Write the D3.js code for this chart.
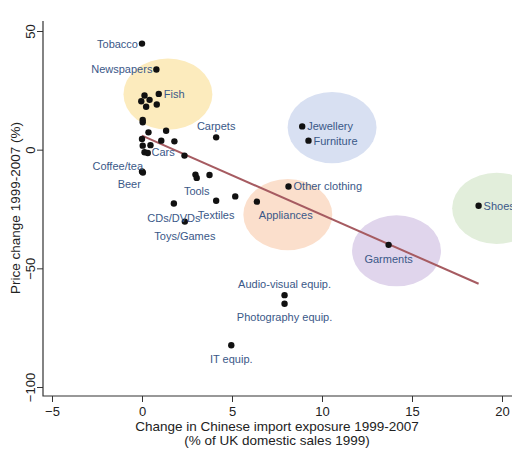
<!DOCTYPE html>
<html>
<head>
<meta charset="utf-8">
<script src="https://cdn.jsdelivr.net/npm/d3@7"></script>
<style>
  body { margin: 0; background: #fff; }
  text { font-family: "Liberation Sans", Arial, sans-serif; }
</style>
</head>
<body>
<svg id="chart" width="512" height="456"></svg>
<script>
// Import exposure change (x, % of UK sales) vs price change (y, %)
var names = ["Tobacco", "Newspapers", "Fish", "", "", "", "", "", "", "", "", "",
  "", "", "", "", "", "Carpets", "Cars", "", "", "Coffee/tea", "Beer", "", "Tools",
  "", "Textiles", "", "Appliances", "CDs/DVDs", "Toys/Games", "Audio-visual equip.",
  "Photography equip.", "IT equip.", "Jewellery", "Furniture", "Other clothing",
  "Shoes", "Garments"];
var xs = [0.0, 0.8, 0.93, 0.14, -0.04, 0.42, 0.23, 0.82, 0.04, 0.04, 1.34, 0.36,
  0.0, 1.07, 1.8, 0.04, 0.47, 4.12, 0.14, 0.32, 2.36, 0.0, 0.05, 2.97, 3.04,
  3.75, 4.12, 5.18, 6.38, 1.77, 2.38, 7.92, 7.92, 4.96, 8.9, 9.25, 8.14,
  18.7, 13.7];
var ys = [44.7, 33.8, 23.5, 22.8, 20.4, 21.0, 18.1, 19.0, 12.5, 11.5, 8.0, 7.3,
  4.5, 3.8, 3.5, 1.7, 1.9, 5.2, -1.1, -1.4, -2.5, -9.2, -9.6, -10.5, -11.9,
  -10.7, -21.5, -19.7, -21.9, -22.7, -30.3, -61.3, -64.9, -82.4, 9.8, 3.8, -15.5,
  -23.6, -40.1];

// fitted line end points
var fitX = [0, 18.7];
var fitY = [5.9, -56.5];

// highlighted groups
var groupNames = ["Fish", "Jewellery", "Appliances", "Garments", "Shoes"];
var groupX = [1.44, 10.56, 8.1, 14.14, 19.7];
var groupY = [23.4, 9.3, -27.4, -42.6, -24.7];
var groupColors = ["#fcebbd", "#d8e0f2", "#fbdfcc", "#e0d5ec", "#e2eedb"];

var xTicks = [-5, 0, 5, 10, 15, 20];
var yTicks = [-100, -50, 0, 50];

var svg = d3.select("#chart");
var x = d3.scaleLinear().domain([-5, 20]).range([52, 502]);
var y = d3.scaleLinear().domain([-100, 50]).range([387, 31]);

// ellipses (radii given in data units)
var rxData = 2.47, ryData = 15;
svg.append("g").selectAll("ellipse").data(groupNames).enter()
  .append("ellipse")
    .attr("cx", function (d, i) { return x(groupX[i]); })
    .attr("cy", function (d, i) { return y(groupY[i]); })
    .attr("rx", x(rxData) - x(0))
    .attr("ry", y(0) - y(ryData))
    .attr("fill", function (d, i) { return groupColors[i]; });

// axes
var axisColor = "#333";
var xAxis = svg.append("g").attr("transform", "translate(0,396)")
  .call(d3.axisBottom(x).tickValues(xTicks).tickSize(6).tickPadding(5).tickFormat(d3.format("d")));
xAxis.select(".domain").remove();
var yAxis = svg.append("g").attr("transform", "translate(43,0)")
  .call(d3.axisLeft(y).tickValues(yTicks).tickSize(6).tickFormat(d3.format("d")));
yAxis.select(".domain").remove();
svg.selectAll(".tick line").attr("stroke", axisColor);
xAxis.selectAll(".tick text").attr("font-size", 13).attr("fill", "#222")
  .attr("font-family", "Liberation Sans, Arial, sans-serif");
yAxis.selectAll(".tick text")
  .attr("font-size", 13).attr("fill", "#222")
  .attr("font-family", "Liberation Sans, Arial, sans-serif")
  .attr("text-anchor", "middle")
  .attr("x", null).attr("dy", null)
  .attr("transform", "translate(-8,0) rotate(-90)");

svg.append("path")
  .attr("d", "M43,21V396H512")
  .attr("fill", "none").attr("stroke", axisColor).attr("stroke-width", 1.2);

// fit line
svg.append("line")
  .attr("x1", x(fitX[0])).attr("y1", y(fitY[0]))
  .attr("x2", x(fitX[1])).attr("y2", y(fitY[1]))
  .attr("stroke", "#a65b61").attr("stroke-width", 2);

// dots
svg.append("g").selectAll("circle").data(xs).enter()
  .append("circle")
    .attr("cx", function (d) { return x(d); })
    .attr("cy", function (d, i) { return y(ys[i]); })
    .attr("r", 3.2)
    .attr("fill", "#111");

// label placement relative to dot: [anchor, dx, dy]
var place = {
  "Tobacco": ["end", -4, 4], "Newspapers": ["end", -4, 4], "Fish": ["start", 5, 4],
  "Carpets": ["middle", 0, -7], "Cars": ["start", 7, 4], "Coffee/tea": ["end", 1, -2],
  "Beer": ["end", -2, 16], "Tools": ["middle", 0, 17], "Textiles": ["middle", 0, 18],
  "Appliances": ["start", 2, 17], "CDs/DVDs": ["middle", 0, 18], "Toys/Games": ["middle", 0, 18],
  "Audio-visual equip.": ["middle", 0, -7], "Photography equip.": ["middle", 0, 17],
  "IT equip.": ["middle", 0, 18], "Jewellery": ["start", 5, 4], "Furniture": ["start", 5, 4],
  "Other clothing": ["start", 5, 4], "Shoes": ["start", 5, 4], "Garments": ["middle", 0, 18]
};
svg.append("g").selectAll("text").data(names.map(function (n, i) { return i; })
    .filter(function (i) { return names[i] !== ""; })).enter()
  .append("text")
    .attr("x", function (i) { return x(xs[i]) + place[names[i]][1]; })
    .attr("y", function (i) { return y(ys[i]) + place[names[i]][2]; })
    .attr("text-anchor", function (i) { return place[names[i]][0]; })
    .attr("font-size", 11)
    .attr("fill", "#3a5888")
    .text(function (i) { return names[i]; });

// axis titles
svg.append("text")
  .attr("transform", "translate(20,208) rotate(-90)")
  .attr("text-anchor", "middle").attr("font-size", 13.5).attr("fill", "#222")
  .text("Price change 1999-2007 (%)");
svg.append("text").attr("x", 277).attr("y", 431)
  .attr("text-anchor", "middle").attr("font-size", 13.5).attr("fill", "#222")
  .text("Change in Chinese import exposure 1999-2007");
svg.append("text").attr("x", 277).attr("y", 445)
  .attr("text-anchor", "middle").attr("font-size", 13.5).attr("fill", "#222")
  .text("(% of UK domestic sales 1999)");
</script>
</body>
</html>
